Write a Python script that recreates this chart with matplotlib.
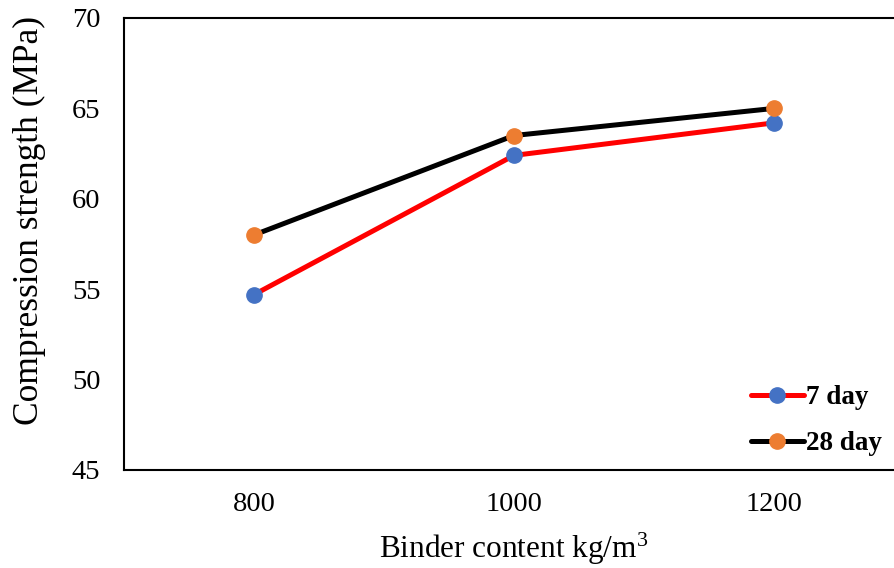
import matplotlib.pyplot as plt
import numpy as np

plt.rcParams['font.family'] = ['Liberation Serif', 'DejaVu Serif']
plt.rcParams['mathtext.fontset'] = 'custom'
plt.rcParams['mathtext.rm'] = 'Liberation Serif'

# data
binder = ['800', '1000', '1200']
day7 = [54.7, 62.4, 64.2]
day28 = [58.0, 63.5, 65.0]

fig = plt.figure(figsize=(8.95, 5.68), dpi=100)
ax = fig.add_axes([124 / 895, 1 - 470 / 568, 780 / 895, 452 / 568])

x = np.arange(len(binder))
ax.plot(x, day7, color='#ff0000', lw=3.6, marker='o', ms=11,
        mfc='#4472c4', mec='#4472c4', label='7 day', solid_capstyle='round')
ax.plot(x, day28, color='#000000', lw=3.6, marker='o', ms=11,
        mfc='#ed7d31', mec='#ed7d31', label='28 day', solid_capstyle='round')

ax.set_xlim(-0.5, 2.5)
ax.set_ylim(45, 70)
ax.set_xticks(x)
ax.set_xticklabels(binder)
ax.set_yticks(range(45, 71, 5))
ax.tick_params(length=0, labelsize=20.5)
ax.tick_params(axis='x', pad=16)
ax.tick_params(axis='y', pad=17)
for s in ax.spines.values():
    s.set_linewidth(1.5)
ax.spines['right'].set_visible(False)

ax.set_xlabel('Binder content kg/m$\\mathregular{^3}$', fontsize=22.5, labelpad=10)
ax.set_ylabel('Compression strength (MPa)', fontsize=25.5)
ax.yaxis.set_label_coords(-0.1, 0.551)

leg = fig.legend(handles=ax.get_lines(), loc='upper left',
                 bbox_to_anchor=(751 / 895, 1 - 385 / 568), frameon=False,
                 prop={'weight': 'bold', 'size': 19.5}, handlelength=1.95,
                 handletextpad=0.08, labelspacing=0.78, borderpad=0,
                 borderaxespad=0)

fig.savefig('out.png', dpi=100)
